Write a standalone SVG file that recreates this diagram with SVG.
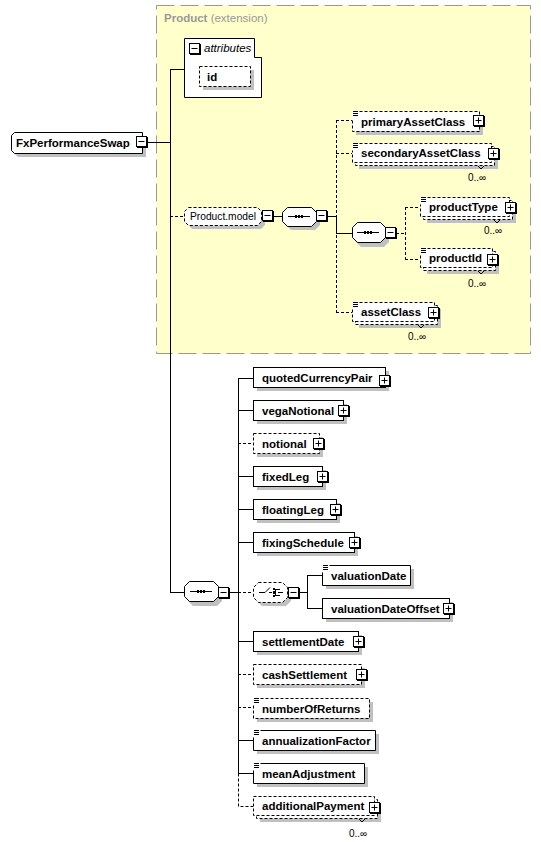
<svg xmlns="http://www.w3.org/2000/svg" width="541" height="842" viewBox="0 0 541 842">
<style>
.ln{fill:none;stroke:#000;stroke-width:1}
.dl{fill:none;stroke:#000;stroke-width:1;stroke-dasharray:3,2}
.sh{fill:#c0c0c0}
.bx{fill:#fff;stroke:#000;stroke-width:1}
.db{fill:#fff;stroke:#000;stroke-width:1;stroke-dasharray:3,2}
.wf{fill:#fff}
.t{font-family:"Liberation Sans",Arial,sans-serif;font-size:11.5px;font-weight:bold;fill:#000}
.n{font-family:"Liberation Sans",Arial,sans-serif;font-size:11.5px;fill:#000}
.c{font-family:"Liberation Sans",Arial,sans-serif;font-size:10px;fill:#000}
</style>
<defs>
<g id="plus"><rect x="1" y="1" width="11" height="11" fill="#000"/><rect x="0.5" y="0.5" width="10" height="10" fill="#fff" stroke="#000"/><path d="M2.5 5.5H8.5M5.5 2.5V8.5" stroke="#000"/></g>
<g id="minus"><rect x="1" y="1" width="11" height="11" fill="#000"/><rect x="0.5" y="0.5" width="10" height="10" fill="#fff" stroke="#000"/><path d="M2.5 5.5H8.5" stroke="#000"/></g>
<g id="ico"><path d="M1 1.5H6M1 3.5H6M1 5.5H6" stroke="#000"/></g>
<g id="seqin"><path d="M6 10.5H28" stroke="#000"/><rect x="13" y="9" width="2" height="3" fill="#000"/><rect x="16" y="9" width="2" height="3" fill="#000"/><rect x="19" y="9" width="2" height="3" fill="#000"/></g>
<path id="tick" d="M0 0L3 3L6 0" fill="none" stroke="#000"/>
</defs>

<g id="product-extension">
<rect x="156.5" y="5.5" width="374" height="348" fill="#ffffcc" stroke="#999" stroke-dasharray="18,6"/>
<text x="164" y="22" class="t" style="fill:#999">Product <tspan style="font-weight:normal">(extension)</tspan></text>
</g>

<g id="connectors">
<path class="ln" d="M147 142.5H170.5M170.5 69V592M170 69.5H184M170 592.5H184"/>
<path class="dl" d="M170 216.5H184"/>
<path class="ln" d="M273 216.5H282M327 216.5H336.5V233M336 233.5H352"/>
<path class="dl" d="M336.5 120V312.5M336 120.5H352M336 153.5H352M336 312.5H352"/>
<path class="dl" d="M396 233.5H405.5M405.5 207V259.5M405 207.5H420M405 259.5H420"/>
<path class="ln" d="M229 592.5H238.5M238.5 378V773.5M238 378.5H253M238 410.5H253M238 476.5H253M238 509.5H253M238 542.5H253M238 641.5H253M238 740.5H253M238 773.5H253"/>
<path class="dl" d="M238.5 773.5V806.5H253M238 443.5H253M238 592.5H253M238 674.5H253M238 707.5H253"/>
<path class="ln" d="M298 592.5H307.5M307.5 575V608.5M307 575.5H322M307 608.5H322"/>
</g>

<g id="FxPerformanceSwap">
<path class="sh" d="M18 136H146V157H18L15 154V139Z"/>
<path class="bx" d="M14.5 132.5H142.5V153.5H14.5L11.5 150.5V135.5Z"/>
<text x="16" y="147" class="t">FxPerformanceSwap</text>
<use href="#minus" x="136" y="136"/>
</g>

<g id="attributes">
<path class="bx" d="M184.5 38.5H254.5V57.5H261.5V97.5H184.5Z"/>
<use href="#minus" x="189" y="43"/>
<text x="204" y="52" class="n" style="font-style:italic">attributes</text>
</g>

<g id="id">
<rect class="sh" x="203" y="70" width="51" height="20"/>
<rect class="db" x="199.5" y="66.5" width="51" height="20"/>
<text x="207" y="81" class="t">id</text>
</g>

<g id="Product.model">
<path class="sh" d="M192 211H261L265 215V225L261 229H192L188 225V215Z"/>
<path class="db" d="M188.5 207.5H257.5L261.5 211.5V221.5L257.5 225.5H188.5L184.5 221.5V211.5Z"/>
<text x="190" y="220" class="n" textLength="66" lengthAdjust="spacingAndGlyphs">Product.model</text>
<use href="#minus" x="262" y="210"/>
</g>

<g id="sequence1">
<path class="sh" d="M291 211H316L320 216V225L315 230H291L286 225V216Z"/>
<path class="bx" d="M287.5 207.5H311.5L316.5 212.5V221.5L311.5 226.5H287.5L282.5 221.5V212.5Z"/>
<use href="#seqin" x="282" y="206"/>
<use href="#minus" x="316" y="210"/>
</g>

<g id="primaryAssetClass">
<rect class="sh" x="356" y="115" width="127" height="20"/>
<rect class="wf" x="352" y="111" width="127" height="20"/>
<path class="dl" d="M359.5 111.5H479.5V131.5H352.5V118.5"/>
<use href="#ico" x="352" y="110"/>
<text x="361" y="126" class="t">primaryAssetClass</text>
<use href="#plus" x="473" y="115"/>
</g>

<g id="secondaryAssetClass">
<rect class="sh" x="359" y="150" width="139" height="19"/>
<rect class="db" x="355.5" y="146.5" width="139" height="19"/>
<rect class="wf" x="352" y="143" width="139" height="19"/>
<path class="dl" d="M359.5 143.5H491.5V162.5H352.5V150.5"/>
<use href="#ico" x="352" y="142"/>
<text x="361" y="157" class="t">secondaryAssetClass</text>
<use href="#plus" x="488" y="148"/>
<use href="#tick" x="478" y="166"/>
<text x="468" y="181" class="c">0..∞</text>
</g>

<g id="sequence2">
<path class="sh" d="M361 226H385L389 231V242L384 247H361L356 242V231Z"/>
<path class="bx" d="M357.5 222.5H380.5L385.5 227.5V237.5L380.5 242.5H357.5L352.5 237.5V227.5Z"/>
<use href="#seqin" x="351" y="222"/>
<use href="#minus" x="385" y="227"/>
</g>

<g id="productType">
<rect class="sh" x="427" y="204" width="89" height="19"/>
<rect class="db" x="423.5" y="200.5" width="89" height="19"/>
<rect class="wf" x="420" y="197" width="89" height="19"/>
<path class="dl" d="M427.5 197.5H509.5V216.5H420.5V204.5"/>
<use href="#ico" x="420" y="196"/>
<text x="429" y="211" class="t">productType</text>
<use href="#plus" x="505" y="202"/>
<use href="#tick" x="494" y="220"/>
<text x="484" y="234" class="c">0..∞</text>
</g>

<g id="productId">
<rect class="sh" x="427" y="255" width="72" height="19"/>
<rect class="db" x="423.5" y="251.5" width="72" height="19"/>
<rect class="wf" x="420" y="248" width="72" height="19"/>
<path class="dl" d="M427.5 248.5H492.5V267.5H420.5V255.5"/>
<use href="#ico" x="420" y="247"/>
<text x="429" y="262" class="t">productId</text>
<use href="#plus" x="487" y="254"/>
<use href="#tick" x="478" y="271"/>
<text x="468" y="287" class="c">0..∞</text>
</g>

<g id="assetClass">
<rect class="sh" x="359" y="309" width="82" height="19"/>
<rect class="db" x="355.5" y="305.5" width="82" height="19"/>
<rect class="wf" x="352" y="302" width="82" height="19"/>
<path class="dl" d="M359.5 302.5H434.5V321.5H352.5V309.5"/>
<use href="#ico" x="352" y="301"/>
<text x="361" y="316" class="t">assetClass</text>
<use href="#plus" x="428" y="307"/>
<use href="#tick" x="418" y="325"/>
<text x="408" y="340" class="c">0..∞</text>
</g>

<g id="quotedCurrencyPair">
<rect class="sh" x="257" y="371" width="132" height="20"/>
<rect class="bx" x="253.5" y="367.5" width="132" height="20"/>
<text x="262" y="382" class="t">quotedCurrencyPair</text>
<use href="#plus" x="379" y="375"/>
</g>

<g id="vegaNotional">
<rect class="sh" x="257" y="404" width="90" height="20"/>
<rect class="bx" x="253.5" y="400.5" width="90" height="20"/>
<text x="262" y="415" class="t">vegaNotional</text>
<use href="#plus" x="338" y="405"/>
</g>

<g id="notional">
<rect class="sh" x="257" y="437" width="66" height="20"/>
<rect class="db" x="253.5" y="433.5" width="66" height="20"/>
<text x="262" y="448" class="t">notional</text>
<use href="#plus" x="313" y="438"/>
</g>

<g id="fixedLeg">
<rect class="sh" x="257" y="470" width="69" height="20"/>
<rect class="bx" x="253.5" y="466.5" width="69" height="20"/>
<text x="262" y="481" class="t">fixedLeg</text>
<use href="#plus" x="317" y="471"/>
</g>

<g id="floatingLeg">
<rect class="sh" x="257" y="503" width="83" height="20"/>
<rect class="bx" x="253.5" y="499.5" width="83" height="20"/>
<text x="262" y="514" class="t">floatingLeg</text>
<use href="#plus" x="330" y="504"/>
</g>

<g id="fixingSchedule">
<rect class="sh" x="257" y="536" width="101" height="20"/>
<rect class="bx" x="253.5" y="532.5" width="101" height="20"/>
<text x="262" y="547" class="t">fixingSchedule</text>
<use href="#plus" x="349" y="537"/>
</g>

<g id="sequence3">
<path class="sh" d="M193 585H218L222 590V601L217 606H193L188 601V590Z"/>
<path class="bx" d="M189.5 581.5H213.5L218.5 586.5V596.5L213.5 601.5H189.5L184.5 596.5V586.5Z"/>
<use href="#seqin" x="184" y="581"/>
<use href="#minus" x="218" y="587"/>
</g>

<g id="choice">
<path class="sh" d="M262 586H287L291 591V601L286 606H262L257 601V591Z"/>
<path class="db" d="M258.5 582.5H282.5L287.5 587.5V597.5L282.5 602.5H258.5L253.5 597.5V587.5Z"/>
<path class="ln" d="M259 592.5H265L270 587.5M269 592.5H272M275.5 589V596M276 589.5H280M276 595.5H280M278 592.5H283"/>
<rect x="273" y="588" width="2" height="2" fill="#000"/><rect x="273" y="591" width="2" height="3" fill="#000"/><rect x="273" y="595" width="2" height="2" fill="#000"/>
<use href="#minus" x="288" y="587"/>
</g>

<g id="valuationDate">
<rect class="sh" x="326" y="569" width="88" height="20"/>
<rect class="wf" x="322" y="565" width="88" height="20"/>
<path class="ln" d="M329.5 565.5H410.5V585.5H322.5V572.5"/>
<use href="#ico" x="322" y="564"/>
<text x="331" y="580" class="t">valuationDate</text>
</g>

<g id="valuationDateOffset">
<rect class="sh" x="326" y="602" width="127" height="20"/>
<rect class="bx" x="322.5" y="598.5" width="127" height="20"/>
<text x="331" y="613" class="t">valuationDateOffset</text>
<use href="#plus" x="443" y="603"/>
</g>

<g id="settlementDate">
<rect class="sh" x="257" y="635" width="105" height="20"/>
<rect class="bx" x="253.5" y="631.5" width="105" height="20"/>
<text x="262" y="646" class="t">settlementDate</text>
<use href="#plus" x="353" y="636"/>
</g>

<g id="cashSettlement">
<rect class="sh" x="257" y="668" width="108" height="20"/>
<rect class="db" x="253.5" y="664.5" width="108" height="20"/>
<text x="262" y="679" class="t">cashSettlement</text>
<use href="#plus" x="356" y="669"/>
</g>

<g id="numberOfReturns">
<rect class="sh" x="257" y="702" width="116" height="20"/>
<rect class="wf" x="253" y="698" width="116" height="20"/>
<path class="dl" d="M260.5 698.5H369.5V718.5H253.5V705.5"/>
<use href="#ico" x="253" y="697"/>
<text x="262" y="713" class="t">numberOfReturns</text>
</g>

<g id="annualizationFactor">
<rect class="sh" x="257" y="734" width="122" height="20"/>
<rect class="wf" x="253" y="730" width="122" height="20"/>
<path class="ln" d="M260.5 730.5H375.5V750.5H253.5V737.5"/>
<use href="#ico" x="253" y="729"/>
<text x="262" y="745" class="t">annualizationFactor</text>
</g>

<g id="meanAdjustment">
<rect class="sh" x="257" y="767" width="111" height="20"/>
<rect class="wf" x="253" y="763" width="111" height="20"/>
<path class="ln" d="M260.5 763.5H364.5V783.5H253.5V770.5"/>
<use href="#ico" x="253" y="762"/>
<text x="262" y="778" class="t">meanAdjustment</text>
</g>

<g id="additionalPayment">
<rect class="sh" x="260" y="803" width="121" height="19"/>
<rect class="db" x="256.5" y="799.5" width="121" height="19"/>
<rect class="db" x="253.5" y="796.5" width="121" height="19"/>
<text x="262" y="810" class="t">additionalPayment</text>
<use href="#plus" x="369" y="802"/>
<use href="#tick" x="359" y="819"/>
<text x="349" y="837" class="c">0..∞</text>
</g>
</svg>
